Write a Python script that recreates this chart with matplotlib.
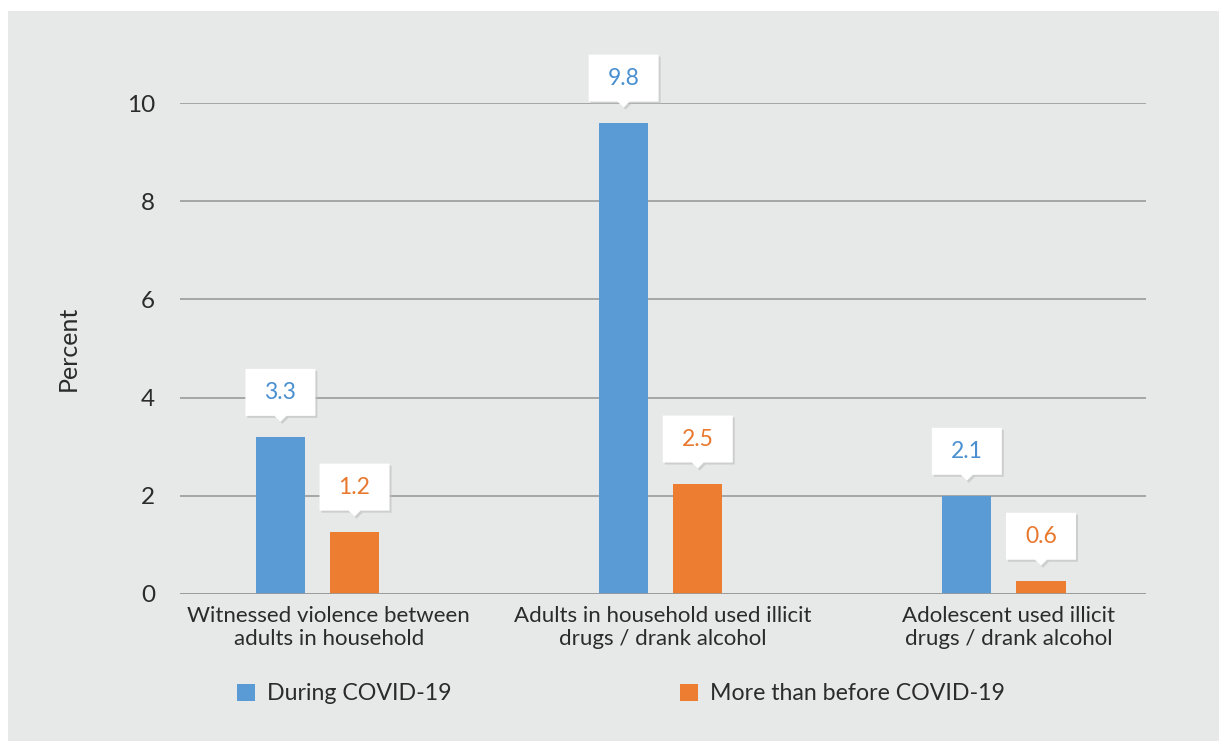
import numpy as np
import matplotlib.pyplot as plt
import matplotlib.transforms as mtransforms
from matplotlib.patches import Polygon, Rectangle, Patch

categories = ['Witnessed violence between\nadults in household',
              'Adults in household used illicit\ndrugs / drank alcohol',
              'Adolescent used illicit\ndrugs / drank alcohol']
during = [3.2, 9.6, 2.0]
more = [1.27, 2.25, 0.27]
during_labels = ['3.3', '9.8', '2.1']
more_labels = ['1.2', '2.5', '0.6']
series_names = ['During COVID-19', 'More than before COVID-19']
yticks = [0, 2, 4, 6, 8, 10]

blue = '#5b9bd5'
orange = '#ed7d31'
bg = '#e7e8e8'
txt = '#2b2b2b'

plt.rcParams['font.family'] = ['Lato', 'DejaVu Sans']

fig = plt.figure(figsize=(12.26, 7.49), dpi=100)
fig.patch.set_facecolor('white')
fig.patches.append(Rectangle((8 / 1226, 1 - 741 / 749), 1211 / 1226, 730 / 749,
                             transform=fig.transFigure, facecolor=bg,
                             edgecolor='none', zorder=-10))

ax = fig.add_axes([180 / 1226, 155 / 749, 966 / 1226, 491 / 749])
ax.set_facecolor('none')

x = np.arange(len(categories))
w = 0.143
off = 0.108
shift = -0.003
ax.bar(x - off + shift, during, w, color=blue, zorder=3)
ax.bar(x + off + shift, more, w, color=orange, zorder=3)

ax.set_xlim(-0.4035, 2.411)
ax.set_ylim(0, 10)
ax.set_yticks(yticks)
ax.grid(axis='y', color='#9a9a9a', linewidth=1.2, zorder=0)
ax.axhline(0, color='#9a9a9a', linewidth=1.2, zorder=4)
for s in ax.spines.values():
    s.set_visible(False)
ax.tick_params(axis='y', length=0, pad=18, labelsize=17.5, labelcolor=txt)
ax.set_xticks(x + np.array([0.03, 0.003, 0.01]))
ax.set_xticklabels(categories, fontsize=16, color=txt, linespacing=1.15)
ax.tick_params(axis='x', length=0, pad=9)
ax.set_ylabel('Percent', fontsize=18, color=txt, labelpad=34)


def callout(xc, yv, label, color):
    tr = mtransforms.Affine2D() + mtransforms.ScaledTranslation(xc, yv, ax.transData)
    verts = [(0, 15), (-6, 21), (-35, 21), (-35, 68), (35, 68), (35, 21), (6, 21)]
    shadow = Polygon(verts, closed=True, facecolor='#bdbdbd', edgecolor='none',
                     alpha=0.6, transform=mtransforms.Affine2D().translate(2, -2) + tr,
                     clip_on=False, zorder=5)
    box = Polygon(verts, closed=True, facecolor='white', edgecolor='none',
                  transform=tr, clip_on=False, zorder=6)
    ax.add_patch(shadow)
    ax.add_patch(box)
    ax.annotate(label, xy=(xc, yv), xytext=(0, 44.5 * 0.72), textcoords='offset points',
                ha='center', va='center', fontsize=16.5, color=color, zorder=7,
                annotation_clip=False)


for i in range(len(categories)):
    callout(x[i] - off + shift, during[i], during_labels[i], '#4a90d0')
    callout(x[i] + off + shift, more[i], more_labels[i], '#e8782e')

handles = [Patch(facecolor=blue), Patch(facecolor=orange)]
fig.legend(handles, series_names, loc='center left',
           bbox_to_anchor=(237 / 1226, 1 - 694 / 749), ncol=2, frameon=False,
           fontsize=16.7, handlelength=0.77, handleheight=0.74, handletextpad=0.52,
           columnspacing=9.87, borderpad=0, borderaxespad=0, labelcolor=txt)

fig.savefig('out.png', dpi=100)
